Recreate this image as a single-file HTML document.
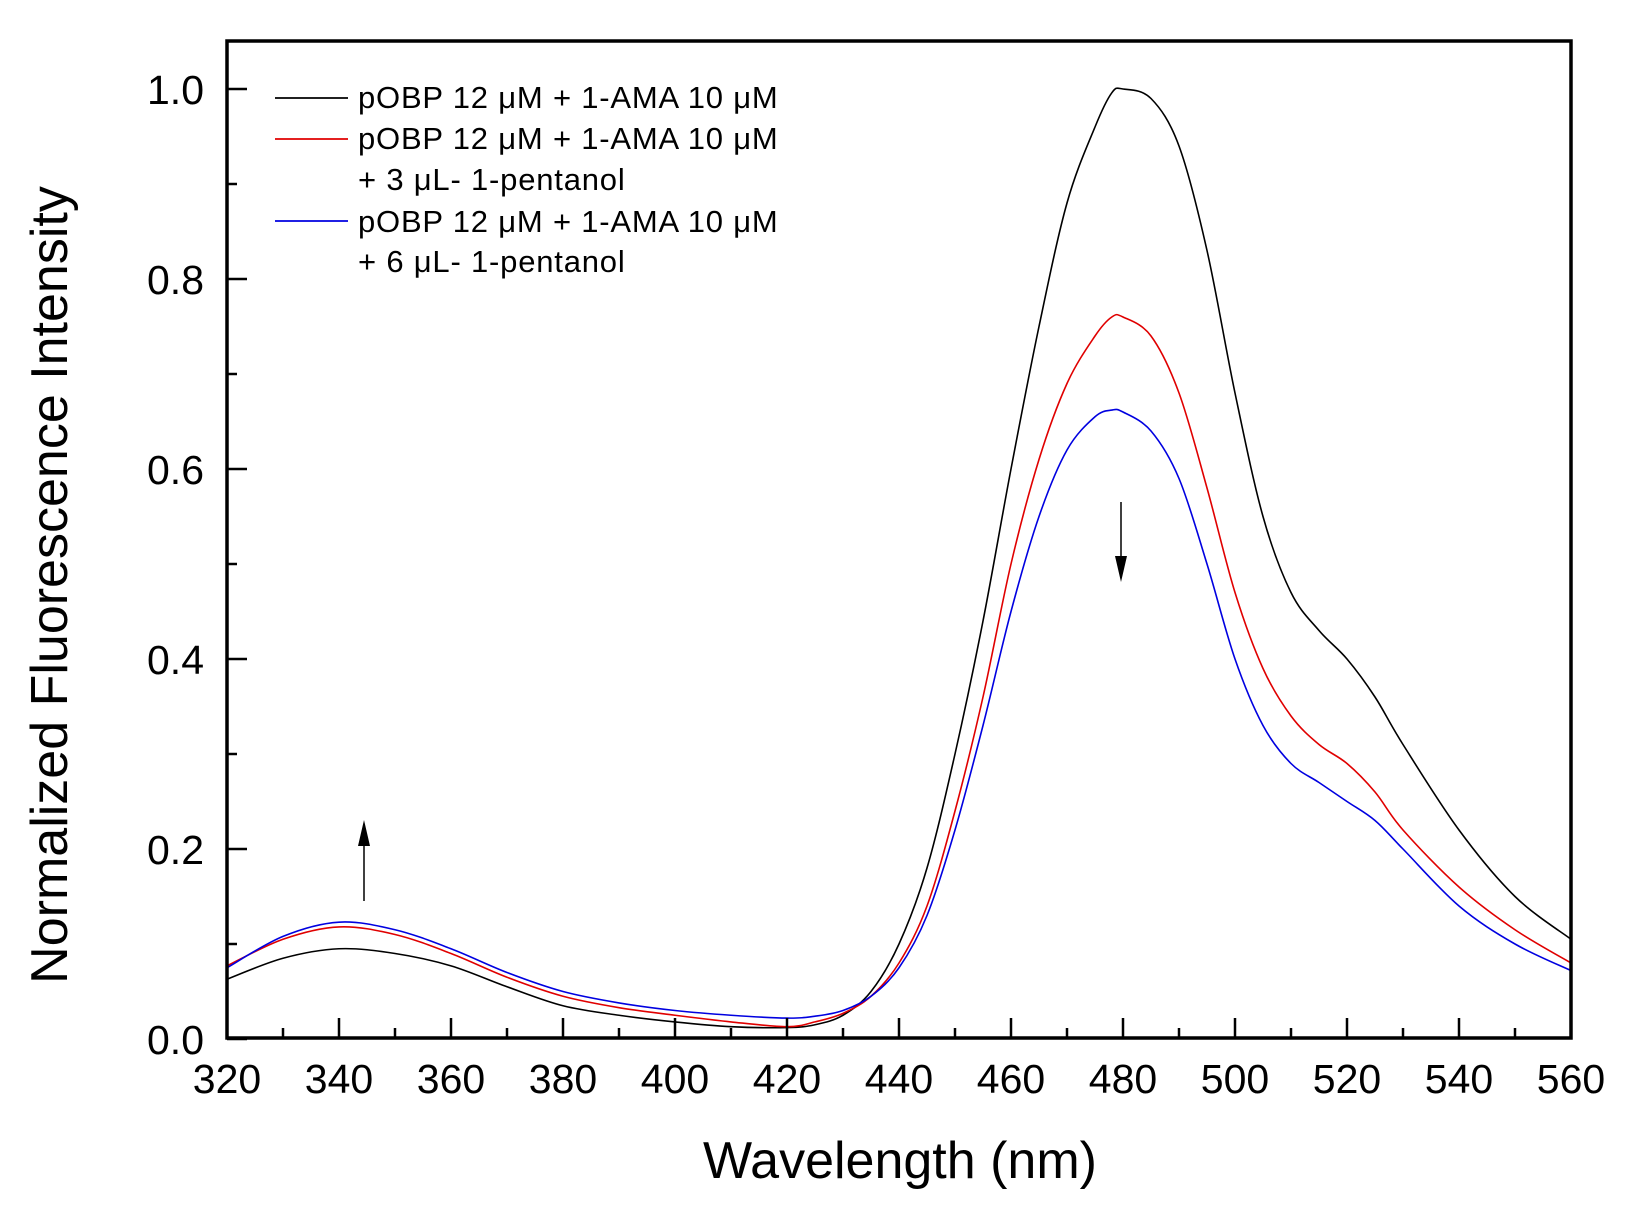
<!DOCTYPE html>
<html><head><meta charset="utf-8"><style>
html,body{margin:0;padding:0;background:#fff;}
svg{display:block;font-family:"Liberation Sans",Arial,sans-serif;}
</style></head><body>
<svg id="chart" width="1631" height="1211" viewBox="0 0 1631 1211">
<g id="plot"></g>
</svg>
<script>
const xValues=[320,330,340,350,360,370,380,390,400,410,420,425,430,435,440,445,450,455,460,465,470,475,478,480,485,490,495,500,505,510,515,520,525,530,540,550,560];
const blackValues=[.063,.085,.095,.09,.077,.055,.035,.025,.018,.013,.012,.015,.025,.05,.1,.18,.3,.44,.6,.75,.88,.96,.996,1.0,.99,.94,.83,.68,.55,.47,.43,.40,.36,.31,.22,.15,.105];
const redValues=[.077,.105,.118,.11,.09,.065,.045,.033,.025,.018,.013,.018,.027,.045,.08,.14,.24,.36,.5,.61,.69,.74,.76,.76,.74,.68,.58,.47,.39,.34,.31,.29,.26,.22,.16,.115,.08];
const blueValues=[.075,.108,.123,.115,.095,.07,.05,.038,.03,.025,.022,.024,.03,.045,.075,.13,.22,.33,.45,.55,.62,.655,.662,.66,.64,.59,.5,.40,.33,.29,.27,.25,.23,.2,.14,.1,.072];
const xTicks=[320,340,360,380,400,420,440,460,480,500,520,540,560];
const yTicks=[0.0,0.2,0.4,0.6,0.8,1.0];
const yTickLabels=["0.0","0.2","0.4","0.6","0.8","1.0"];

const L=227,R=1571,T=41,B=1038;
const sx=v=>L+(v-320)*(R-L)/240;
const sy=v=>1039-v*950;
const NS="http://www.w3.org/2000/svg";
const g=document.getElementById('plot');
function mk(tag,attrs,parent){const e=document.createElementNS(NS,tag);for(const k in attrs)e.setAttribute(k,attrs[k]);(parent||g).appendChild(e);return e;}

function pathFor(xs,ys){
  const p=xs.map((x,i)=>[sx(x),sy(ys[i])]);
  let d=`M${p[0][0]},${p[0][1]}`;
  for(let i=0;i<p.length-1;i++){
    const p0=p[Math.max(0,i-1)],p1=p[i],p2=p[i+1],p3=p[Math.min(p.length-1,i+2)];
    const c1=[p1[0]+(p2[0]-p0[0])/6,p1[1]+(p2[1]-p0[1])/6];
    const c2=[p2[0]-(p3[0]-p1[0])/6,p2[1]-(p3[1]-p1[1])/6];
    d+=` C${c1[0]},${c1[1]} ${c2[0]},${c2[1]} ${p2[0]},${p2[1]}`;
  }
  return d;
}
let e;
e=mk('path',{d:pathFor(xValues,blackValues),fill:'none',stroke:'#000','stroke-width':1.6});


e=mk('path',{d:pathFor(xValues,redValues),fill:'none',stroke:'#e00000','stroke-width':1.6});


e=mk('path',{d:pathFor(xValues,blueValues),fill:'none',stroke:'#0000e0','stroke-width':1.6});



e=mk('rect',{x:L,y:T,width:R-L,height:B-T,fill:'none',stroke:'#000','stroke-width':3.5});



for(let v=320;v<=560;v+=10){
  const major=xTicks.includes(v);
  e=mk('line',{x1:sx(v),x2:sx(v),y1:B,y2:B-(major?20:10),stroke:'#000','stroke-width':2.5});
  
  
}
xTicks.forEach(v=>{
  e=mk('text',{x:sx(v),y:1093,'text-anchor':'middle','font-size':41});
  e.textContent=v;
  
  
});
for(let i=0;i<=10;i++){
  const v=i/10;const major=i%2===0;
  e=mk('line',{x1:L,x2:L+(major?20:10),y1:sy(v),y2:sy(v),stroke:'#000','stroke-width':2.5});
  
  
}
yTicks.forEach((v,i)=>{
  e=mk('text',{x:204,y:sy(v)+15,'text-anchor':'end','font-size':41});
  e.textContent=yTickLabels[i];
  
  
});
e=mk('text',{x:900,y:1178,'text-anchor':'middle','font-size':52});
e.textContent='Wavelength (nm)';


e=mk('text',{x:0,y:0,'text-anchor':'middle','font-size':52,transform:'translate(67,585) rotate(-90)'});
e.textContent='Normalized Fluorescence Intensity';



const legendColors=['#000','#e00000','#0000e0'];
const legendY=[98,139,221];
legendColors.forEach((c,i)=>{
  e=mk('line',{x1:275,x2:348,y1:legendY[i],y2:legendY[i],stroke:c,'stroke-width':1.8});
  
  
});
const legendText=[['pOBP 12 \u03bcM + 1-AMA 10 \u03bcM',108],['pOBP 12 \u03bcM + 1-AMA 10 \u03bcM',149],['+ 3 \u03bcL- 1-pentanol',190],['pOBP 12 \u03bcM + 1-AMA 10 \u03bcM',232],['+ 6 \u03bcL- 1-pentanol',272]];
legendText.forEach(t=>{
  e=mk('text',{x:358,y:t[1],'font-size':31,'letter-spacing':'0.8'});
  e.textContent=t[0];
  
  
});

e=mk('line',{x1:364,x2:364,y1:901,y2:835,stroke:'#000','stroke-width':1.5});


e=mk('polygon',{points:'364,820 358,846 370,846',fill:'#000'});


e=mk('line',{x1:1121,x2:1121,y1:502,y2:568,stroke:'#000','stroke-width':1.5});


e=mk('polygon',{points:'1121,582 1115,556 1127,556',fill:'#000'});


</script>
</body></html>
